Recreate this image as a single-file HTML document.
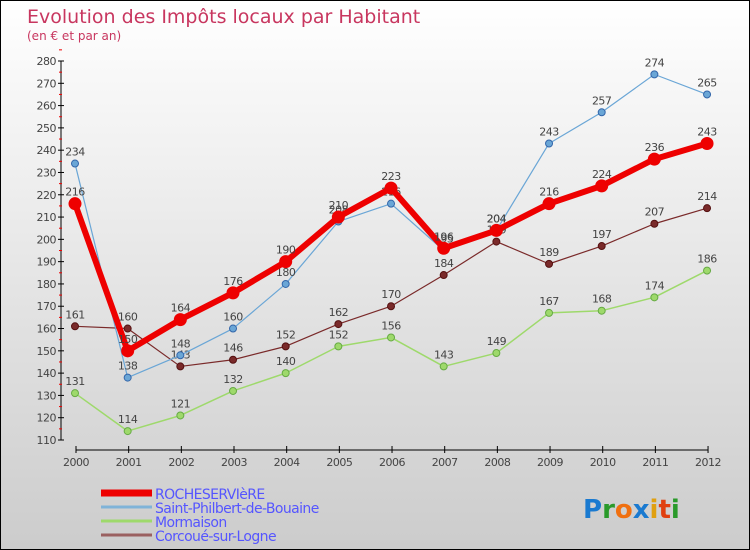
<!DOCTYPE html>
<html><head><meta charset="utf-8"><style>
body{margin:0}
#c{width:748px;height:548px;border:1px solid #000;background:linear-gradient(#fff,#ccc);position:relative;font-family:"DejaVu Sans","Liberation Sans",sans-serif;overflow:hidden}
</style></head><body>
<div id="c">
<svg id="s" width="748" height="548"></svg>
</div>
<script>
const years=["2000","2001","2002","2003","2004","2005","2006","2007","2008","2009","2010","2011","2012"];
const yTicks=[110,120,130,140,150,160,170,180,190,200,210,220,230,240,250,260,270,280];
const roche=[216,150,164,176,190,210,223,196,204,216,224,236,243];
const philbert=[234,138,148,160,180,208,216,195,204,243,257,274,265];
const mormaison=[131,114,121,132,140,152,156,143,149,167,168,174,186];
const corcoue=[161,160,143,146,152,162,170,184,199,189,197,207,214];
const names=["ROCHESERVIèRE","Saint-Philbert-de-Bouaine","Mormaison","Corcoué-sur-Logne"];
const NS="http://www.w3.org/2000/svg",s=document.getElementById('s');
function el(t,a,p){const e=document.createElementNS(NS,t);for(const k in a)e.setAttribute(k,a[k]);(p||s).appendChild(e);return e;}
const X=i=>74+i*52.67, Y=v=>439-(v-110)*(379/170);
let t=el('text',{x:26,y:22,'font-size':19,fill:'#c8365f'});t.textContent="Evolution des Impôts locaux par Habitant";

t=el('text',{x:26,y:39,'font-size':12,fill:'#c8365f'});t.textContent="(en € et par an)";

let ax=el('line',{x1:60,y1:Y(280),x2:60,y2:Y(110),stroke:'#000'});

yTicks.forEach(v=>{el('line',{x1:57,x2:63,y1:Y(v),y2:Y(v),stroke:'#000'});
 el('line',{x1:58,x2:61,y1:Y(v+5),y2:Y(v+5),stroke:'#e00'});
 const l=el('text',{x:55,y:Y(v)+4,'font-size':11,fill:'#444','text-anchor':'end','letter-spacing':'-0.5'});l.textContent=v;
 });
ax=el('line',{x1:75,y1:449,x2:707,y2:449,stroke:'#000'});

years.forEach((y,i)=>{el('line',{x1:X(i)+1,x2:X(i)+1,y1:445,y2:452,stroke:'#000'});
 const l=el('text',{x:X(i)+1,y:465,'font-size':11,fill:'#444','text-anchor':'middle','letter-spacing':'-0.5'});l.textContent=y;
 });
function series(d,col,w,r,dot,name){
 const g=el('g',{});
 el('polyline',{points:d.map((v,i)=>X(i)+','+Y(v)).join(' '),fill:'none',stroke:col,'stroke-width':w,'stroke-linejoin':'round'},g);
 d.forEach((v,i)=>{const c=el('circle',{cx:X(i),cy:Y(v),r:r,fill:col,stroke:dot,'stroke-width':1},g);
  
  const l=el('text',{x:X(i),y:Y(v)-8,'font-size':11,fill:'#444','text-anchor':'middle','letter-spacing':'-0.5'},g);l.textContent=v;
  });
}
series(mormaison,'#9ed96b',1.5,3.5,'#6a4','mormaison-series');
series(corcoue,'#7a2a2a',1.2,3.5,'#511','corcoue-series');
series(philbert,'#6aa6d6',1.2,3.5,'#36a','philbert-series');
series(roche,'#ee0000',6,6,'#e00','rocheserviere-series');
const cols=['#ee0000','#7fb3d8','#9ed96b','#9a6060'],ws=[7,3,3,3];
names.forEach((n,i)=>{const y=497+i*14;
 const g=el('g',{});
 el('line',{x1:100,x2:151,y1:y-5,y2:y-5,stroke:cols[i],'stroke-width':ws[i]},g);
 const l=el('text',{x:154,y:y+1,'font-size':14,fill:'#55f','letter-spacing':'-0.6'},g);l.textContent=n;});
const lg=el('text',{x:582,y:517,'font-size':26,'font-weight':'bold','font-family':'"DejaVu Sans",sans-serif'});

[['P','#1a7ad0'],['r','#2a9a2a'],['o','#f07010'],['x','#1a7ad0'],['i','#e0a010'],['t','#e04010'],['i','#2a9a2a']].forEach(([c,f])=>{const ts=el('tspan',{fill:f},lg);ts.textContent=c;});
</script>
</body></html>
